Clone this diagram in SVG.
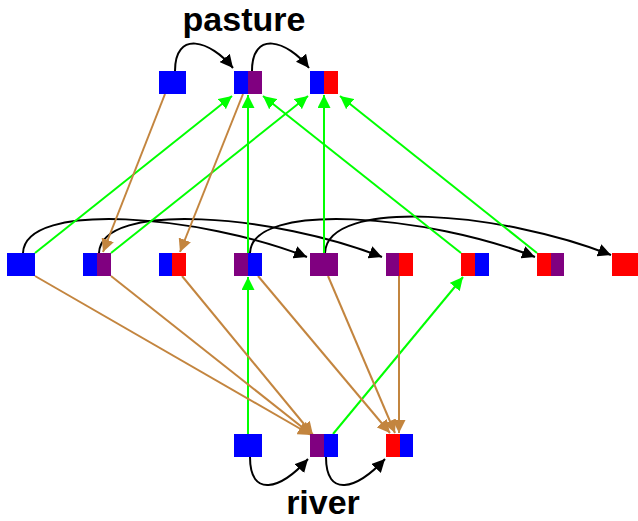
<svg xmlns="http://www.w3.org/2000/svg" width="638" height="521" viewBox="0 0 638 521">
<style>
.lbl{font-family:"Liberation Sans",Arial,sans-serif;font-weight:bold;font-size:34px;fill:#000;text-anchor:middle}
.k{fill:none;stroke:#000;stroke-width:2}
.g{fill:none;stroke:#00ff00;stroke-width:2}
.b{fill:none;stroke:#c3853f;stroke-width:2}
.bl{fill:#0000ff}.rd{fill:#ff0000}.pu{fill:#800080}
</style>
<defs>
<marker id="ak" markerUnits="userSpaceOnUse" markerWidth="14" markerHeight="13" refX="13" refY="6.5" orient="auto" viewBox="0 0 14 13"><path d="M0,0 L13,6.5 L0,13 z" fill="#000"/></marker>
<marker id="ag" markerUnits="userSpaceOnUse" markerWidth="14" markerHeight="13" refX="13" refY="6.5" orient="auto" viewBox="0 0 14 13"><path d="M0,0 L13,6.5 L0,13 z" fill="#00ff00"/></marker>
<marker id="ab" markerUnits="userSpaceOnUse" markerWidth="14" markerHeight="13" refX="13" refY="6.5" orient="auto" viewBox="0 0 14 13"><path d="M0,0 L13,6.5 L0,13 z" fill="#c3853f"/></marker>
</defs>
<rect width="638" height="521" fill="#fff"/>
<text class="lbl" x="244" y="31">pasture</text>
<text class="lbl" x="323" y="514">river</text>
<g id="connectors">
<path class="k" marker-end="url(#ak)" d="M175,71 C175,30 210,40 233,68"/>
<path class="k" marker-end="url(#ak)" d="M252,71 C252,30 287,40 309,68"/>
<path class="k" marker-end="url(#ak)" d="M23,253 C25,200 200,215 307,257"/>
<path class="k" marker-end="url(#ak)" d="M99,253 C101,200 276,215 382,257"/>
<path class="k" marker-end="url(#ak)" d="M250,253 C252,200 428,215 535,257"/>
<path class="k" marker-end="url(#ak)" d="M325,253 C327,197 503,212 611,255"/>
<path class="k" marker-end="url(#ak)" d="M250,457 C250,498 280,490 308,459"/>
<path class="k" marker-end="url(#ak)" d="M326,457 C326,498 356,490 385,459"/>
<path class="g" marker-end="url(#ag)" d="M35,253 L232,96"/>
<path class="g" marker-end="url(#ag)" d="M111,253 L308,96"/>
<path class="g" marker-end="url(#ag)" d="M248,253 L248,95"/>
<path class="g" marker-end="url(#ag)" d="M324,253 L324,95"/>
<path class="g" marker-end="url(#ag)" d="M461,253 L263,96"/>
<path class="g" marker-end="url(#ag)" d="M537,253 L340,96"/>
<path class="g" marker-end="url(#ag)" d="M248,434 L248,277"/>
<path class="g" marker-end="url(#ag)" d="M333,434 L463,277"/>
<path class="b" marker-end="url(#ab)" d="M165,94 L103,252"/>
<path class="b" marker-end="url(#ab)" d="M243,94 L180,252"/>
<path class="b" marker-end="url(#ab)" d="M35,276 L311,435"/>
<path class="b" marker-end="url(#ab)" d="M111,276 L312,435"/>
<path class="b" marker-end="url(#ab)" d="M182,276 L313,435"/>
<path class="b" marker-end="url(#ab)" d="M258,276 L390,433"/>
<path class="b" marker-end="url(#ab)" d="M328,276 L395,433"/>
<path class="b" marker-end="url(#ab)" d="M399,276 L399,433"/>
</g>
<g id="t1"><rect class="bl" x="159" y="71" width="27" height="23"/></g>
<g id="t2"><rect class="bl" x="234" y="71" width="14" height="23"/><rect class="pu" x="248" y="71" width="14" height="23"/></g>
<g id="t3"><rect class="bl" x="310" y="71" width="14" height="23"/><rect class="rd" x="324" y="71" width="14" height="23"/></g>
<g id="m1"><rect class="bl" x="7" y="253" width="28" height="23"/></g>
<g id="m2"><rect class="bl" x="83" y="253" width="14" height="23"/><rect class="pu" x="97" y="253" width="14" height="23"/></g>
<g id="m3"><rect class="bl" x="159" y="253" width="13" height="23"/><rect class="rd" x="172" y="253" width="14" height="23"/></g>
<g id="m4"><rect class="pu" x="234" y="253" width="14" height="23"/><rect class="bl" x="248" y="253" width="14" height="23"/></g>
<g id="m5"><rect class="pu" x="310" y="253" width="28" height="23"/></g>
<g id="m6"><rect class="pu" x="386" y="253" width="13" height="23"/><rect class="rd" x="399" y="253" width="14" height="23"/></g>
<g id="m7"><rect class="rd" x="461" y="253" width="14" height="23"/><rect class="bl" x="475" y="253" width="14" height="23"/></g>
<g id="m8"><rect class="rd" x="537" y="253" width="14" height="23"/><rect class="pu" x="551" y="253" width="13" height="23"/></g>
<g id="m9"><rect class="rd" x="612" y="253" width="26" height="23"/></g>
<g id="b1"><rect class="bl" x="234" y="434" width="28" height="23"/></g>
<g id="b2"><rect class="pu" x="310" y="434" width="14" height="23"/><rect class="bl" x="324" y="434" width="14" height="23"/></g>
<g id="b3"><rect class="rd" x="386" y="434" width="14" height="23"/><rect class="bl" x="400" y="434" width="13" height="23"/></g>
</svg>
